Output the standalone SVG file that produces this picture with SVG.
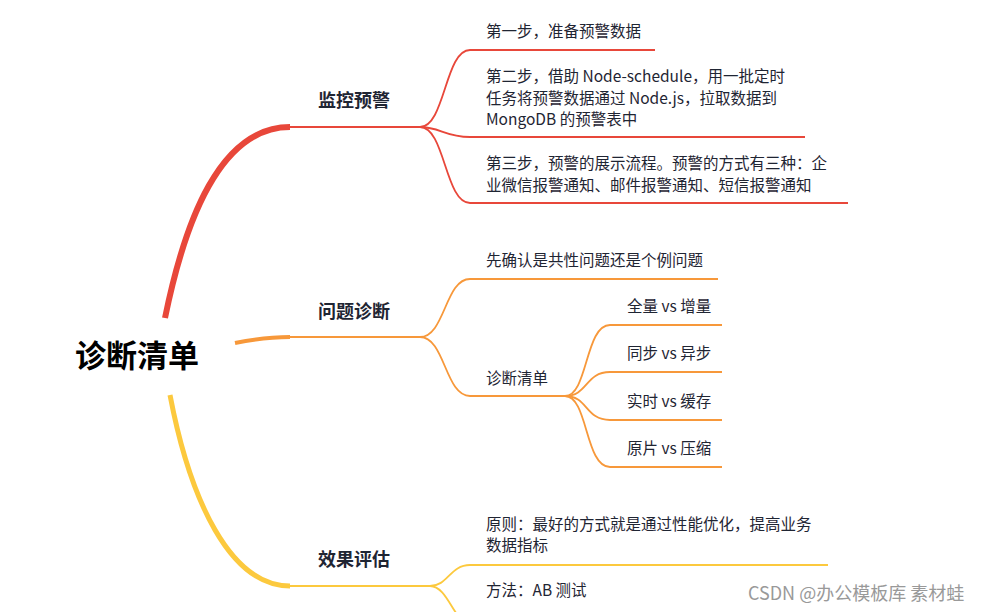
<svg xmlns="http://www.w3.org/2000/svg" width="1000" height="612" viewBox="0 0 1000 612">
<style>
text{font-family:"Noto Sans CJK SC","Noto Sans",sans-serif;fill:#1f2533}
.t{font-size:15.5px}
.b{font-size:18px;font-weight:bold}
.r{stroke:#e8473a;fill:none}
.o{stroke:#f7983a;fill:none}
.y{stroke:#fcc93e;fill:none}
</style>
<rect width="1000" height="612" fill="#fff"/>
<g id="connectors">
<path class="r" stroke-width="6" d="M165 318 C185 220 220 127 290 127"/>
<path class="r" stroke-width="2" d="M290 127 H420"/>
<path class="o" stroke-width="4" d="M235 343 C255 339 270 337 290 337"/>
<path class="o" stroke-width="2" d="M290 337 H420"/>
<path class="y" stroke-width="5" d="M170 395 C190 500 230 586 290 586"/>
<path class="y" stroke-width="2" d="M290 586 H430"/>
<g class="r" stroke-width="1.8">
<path d="M420 127 C445 127 445 50 470 50 H655"/>
<path d="M420 127 C440 127 445 137 470 137 H805"/>
<path d="M420 127 C445 127 445 203 470 203 H848"/>
</g>
<g class="o" stroke-width="1.8">
<path d="M420 337 C445 337 445 279 470 279 H718"/>
<path d="M420 337 C445 337 445 396 470 396 H565"/>
<path d="M565 396 C588 396 585 325 610 325 H722"/>
<path d="M565 396 C588 396 585 372 610 372 H722"/>
<path d="M565 396 C588 396 585 420 610 420 H722"/>
<path d="M565 396 C588 396 585 467 610 467 H722"/>
</g>
<g class="y" stroke-width="1.8">
<path d="M430 586 C448 586 450 565 470 565 H828"/>
<path d="M430 586 C445 586 452 612 462 620"/>
</g>
</g>
<g id="root"><text x="137" y="367" font-size="31" font-weight="bold" text-anchor="middle" style="fill:#000">诊断清单</text></g>
<g id="n1"><text class="b" x="354" y="107" text-anchor="middle">监控预警</text></g>
<g id="n2"><text class="b" x="354" y="318" text-anchor="middle">问题诊断</text></g>
<g id="n3"><text class="b" x="354" y="566" text-anchor="middle">效果评估</text></g>
<g id="n1a"><text class="t" x="486" y="37">第一步，准备预警数据</text></g>
<g id="n1b"><text class="t" x="486" y="82">第二步，借助 Node-schedule，用一批定时</text><text class="t" x="486" y="104">任务将预警数据通过 Node.js，拉取数据到</text><text class="t" x="486" y="125">MongoDB 的预警表中</text></g>
<g id="n1c"><text class="t" x="486" y="169">第三步，预警的展示流程。预警的方式有三种：企</text><text class="t" x="486" y="191">业微信报警通知、邮件报警通知、短信报警通知</text></g>
<g id="n2a"><text class="t" x="486" y="266">先确认是共性问题还是个例问题</text></g>
<g id="n2b"><text class="t" x="486" y="384">诊断清单</text></g>
<g id="n2b1"><text class="t" x="627" y="312">全量 vs 增量</text></g>
<g id="n2b2"><text class="t" x="627" y="359">同步 vs 异步</text></g>
<g id="n2b3"><text class="t" x="627" y="407">实时 vs 缓存</text></g>
<g id="n2b4"><text class="t" x="627" y="454">原片 vs 压缩</text></g>
<g id="n3a"><text class="t" x="486" y="530">原则：最好的方式就是通过性能优化，提高业务</text><text class="t" x="486" y="551">数据指标</text></g>
<g id="n3b"><text class="t" x="486" y="596">方法：AB 测试</text></g>
<text x="748" y="600" font-size="18" style="fill:#999">CSDN @办公模板库 素材蛙</text>
</svg>
